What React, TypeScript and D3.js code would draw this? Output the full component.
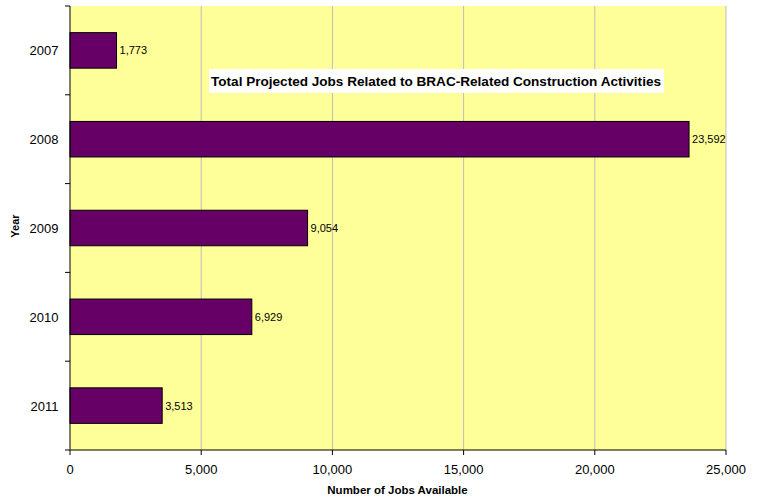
import React from "react";
import * as d3 from "d3";

const years = ["2007", "2008", "2009", "2010", "2011"];
const jobs = [1773, 23592, 9054, 6929, 3513];
const xTicks = [0, 5000, 10000, 15000, 20000, 25000];
const title = "Total Projected Jobs Related to BRAC-Related Construction Activities";

export default function App() {
  const W = 758, H = 497;
  const left = 70, right = 726, top = 6, bottom = 450;
  const x = d3.scaleLinear().domain([0, 25000]).range([left, right]);
  const y = d3.scaleBand<string>().domain(years).range([top, bottom]).paddingInner(0.6).paddingOuter(0.3);
  const fmt = d3.format(",");
  const step = (bottom - top) / years.length;
  const font = "'Liberation Sans', Arial, sans-serif";
  return (
    <svg width={W} height={H} style={{ position: "absolute", left: 0, top: 0 }} fontFamily={font}>
      <rect x={0} y={0} width={W} height={H} fill="#fff" />
      <rect x={left} y={top} width={right - left} height={bottom - top} fill="#FFFF99" />
      {xTicks.slice(1).map((t) => (
        <line key={t} x1={x(t)} x2={x(t)} y1={top} y2={bottom} stroke="#BDBDBD" strokeWidth={1} />
      ))}
      <rect x={209} y={69} width={455} height={24} fill="#fff" />
      <text x={211} y={86} fontSize={13.5} fontWeight="bold" fill="#000" textLength={450} lengthAdjust="spacingAndGlyphs">{title}</text>
      {years.map((yr, i) => (
        <g key={yr}>
          <rect x={x(0)} y={y(yr)!} width={x(jobs[i]) - x(0)} height={y.bandwidth()} fill="#660066" stroke="#000" strokeWidth={1} />
          <text x={x(jobs[i]) + 3} y={y(yr)! + y.bandwidth() / 2 + 4} fontSize={11} fill="#000">{fmt(jobs[i])}</text>
          <text x={58.5} y={y(yr)! + y.bandwidth() / 2 + 5} fontSize={13} textAnchor="end" fill="#000">{yr}</text>
        </g>
      ))}
      {d3.range(years.length + 1).map((k) => (
        <line key={k} x1={65} x2={left} y1={top + k * step} y2={top + k * step} stroke="#000" />
      ))}
      <line x1={left} x2={left} y1={top} y2={bottom} stroke="#000" />
      <line x1={left} x2={right} y1={bottom} y2={bottom} stroke="#555533" strokeWidth={1.5} />
      {xTicks.map((t) => (
        <g key={t}>
          <line x1={x(t)} x2={x(t)} y1={bottom} y2={bottom + 5} stroke="#000" />
          <text x={x(t)} y={bottom + 24} fontSize={13} textAnchor="middle" fill="#000">{fmt(t)}</text>
        </g>
      ))}
      <text x={397.5} y={494} fontSize={11.5} fontWeight="bold" textAnchor="middle" fill="#000">Number of Jobs Available</text>
      <text transform={`translate(19,226) rotate(-90)`} fontSize={11} fontWeight="bold" textAnchor="middle" fill="#000">Year</text>
    </svg>
  );
}
